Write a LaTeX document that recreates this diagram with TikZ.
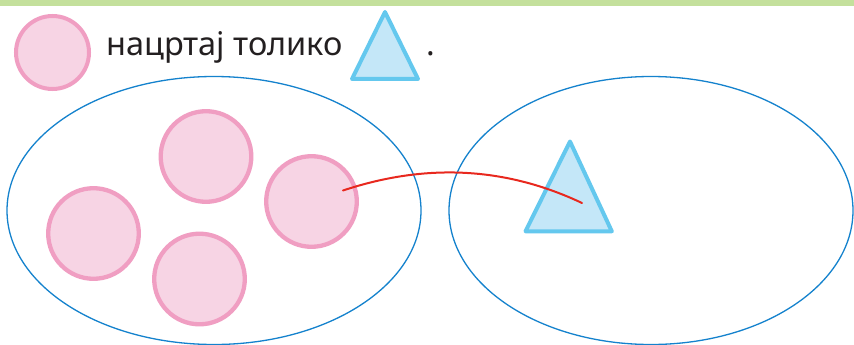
\documentclass[tikz,border=0pt]{standalone}
\usepackage{fontspec}
\setmainfont{Noto Sans}
\definecolor{barGreen}{RGB}{196,224,156}
\definecolor{setBlue}{RGB}{20,130,205}
\definecolor{pinkFill}{RGB}{247,212,228}
\definecolor{pinkLine}{RGB}{240,158,194}
\definecolor{triFill}{RGB}{196,231,248}
\definecolor{triLine}{RGB}{100,200,238}
\definecolor{matchRed}{RGB}{232,40,30}
\definecolor{txt}{RGB}{35,31,32}
\tikzset{
  ball/.style={circle, draw=pinkLine, fill=pinkFill, line width=4.3pt, minimum size=90.6pt, inner sep=0pt},
  smallball/.style={circle, draw=pinkLine, fill=pinkFill, line width=4pt, minimum size=73pt, inner sep=0pt},
  tri/.style={draw=triLine, fill=triFill, line width=4pt, line join=round},
  setline/.style={draw=setBlue, line width=1.3pt},
  label/.style={inner sep=0pt, anchor=base west, text=txt, font=\fontsize{32.5}{38}\selectfont},
  matchline/.style={draw=matchRed, line width=2pt, line cap=round}
}
\begin{document}
\begin{tikzpicture}[x=1pt,y=-1pt]
\useasboundingbox (0,0) rectangle (854,345);
\fill[white] (0,0) rectangle (854,345);
\fill[barGreen] (0,0) rectangle (854,6);
% instruction line
\node[smallball] (q) at (52.5,52.5) {};
\node[label] (t) at (106,56) {нацртај толико};
\filldraw[tri] (385,12) -- (418,79) -- (352,79) -- cycle;
\node[label] (dot) at (426,56) {.};
% sets
\draw[setline] (214,210.5) ellipse [x radius=207, y radius=134];
\draw[setline] (651,210.5) ellipse [x radius=202, y radius=134];
% elements
\node[ball] (c1) at (206,156.5) {};
\node[ball] (c2) at (311.5,201.5) {};
\node[ball] (c3) at (93.5,233.5) {};
\node[ball] (c4) at (199.5,279) {};
\filldraw[tri] (570,141.5) -- (611.8,231.3) -- (525.5,231.3) -- cycle;
% match line
\coordinate (s) at (343,190.5);
\coordinate (e) at (582,203);
\draw[matchline] (s) .. controls (426.3,162.8) and (505.7,167) .. (e);
\end{tikzpicture}
\end{document}
